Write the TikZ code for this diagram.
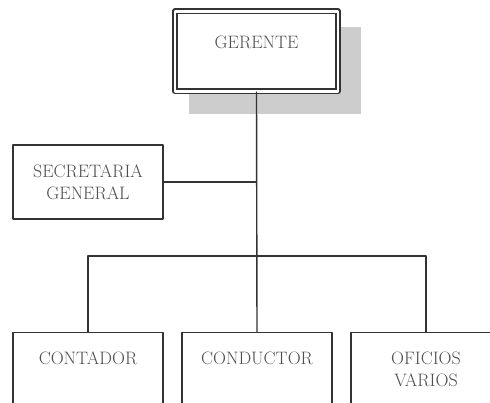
\documentclass[tikz,border=0pt]{standalone}
\usepackage{tikz}
\usetikzlibrary{calc,backgrounds}

\definecolor{linegray}{HTML}{333333}
\definecolor{txtgray}{HTML}{4E4E4E}
\definecolor{shadowgray}{HTML}{CDCDCD}

\begin{document}
\begin{tikzpicture}[x=1pt,y=-1pt, line cap=round, line join=round,
		font=\fontsize{18}{22}\selectfont]
	% ===== marco =====
	\useasboundingbox (0,0) rectangle (490,403);
	\clip (0,0) rectangle (490,403);
	
	% ===== estilos =====
	\tikzset{
		cargo/.style={draw=linegray, fill=white, line width=1.4pt, text=txtgray,
			inner sep=0pt, minimum width=150, align=center},
		jefe/.style={cargo, double=white, double distance=2.8pt, line width=1.6pt,
			minimum width=163, text height=37, text depth=43},
		base/.style={cargo, anchor=north, text height=32, text depth=68},
		enlace/.style={draw=linegray, line width=1.4pt}
	}
	
	% ===== cargos =====
	\node[jefe, anchor=north] (ger) at (256.5,10.5) {GERENTE};
	\node[cargo, minimum height=74] (sec) at (88,182) {SECRETARIA\\GENERAL};
	\node[base] (cont) at (88,332) {CONTADOR};
	\node[base] (cond) at (257,332) {CONDUCTOR};
	\node[base] (ofi) at (426,332) {\begin{tabular}[t]{@{}c@{}}OFICIOS\\VARIOS\end{tabular}};
	
	% ===== sombra =====
	\begin{scope}[on background layer]
		\fill[shadowgray] ($(ger.north west)+(15,17)$) rectangle ($(ger.south east)+(22,22)$);
	\end{scope}
	
	% ===== lineas =====
	\coordinate (rama) at (cond.north |- 0,256);
	\draw[enlace] (ger.south) -- (cond.north);
	\draw[enlace] (sec.east) -- (sec.east -| ger.south);
	\draw[enlace] (cont.north) |- (rama) -| (ofi.north);
\end{tikzpicture}
\end{document}
